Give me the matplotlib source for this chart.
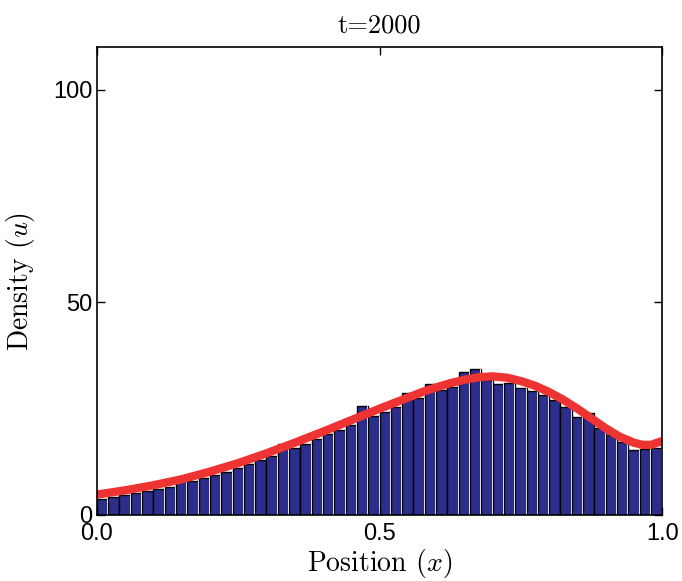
import numpy as np
import matplotlib.pyplot as plt

plt.rcParams['mathtext.fontset'] = 'cm'

# histogram of particle positions, 50 bins on [0, 1]
binLeft = np.arange(50) * 0.02
barHeight = [3.8, 4.3, 4.7, 5.2, 5.6, 6.2, 6.7, 8.6, 7.9, 8.6,
             9.4, 10.2, 11.0, 11.9, 12.9, 13.9, 16.8, 15.8, 16.8, 17.9,
             19.0, 20.0, 21.1, 25.6, 23.3, 24.3, 25.4, 28.8, 27.4, 30.8,
             29.3, 30.2, 33.6, 34.4, 31.8, 30.9, 31.1, 29.8, 29.2, 28.3,
             27.0, 25.4, 23.0, 24.0, 20.5, 18.8, 17.1, 15.3, 15.5, 15.8]

# continuum density solution
curveX = [0.0, 0.05, 0.10, 0.15, 0.20, 0.25, 0.30, 0.35, 0.40, 0.45, 0.50,
          0.55, 0.575, 0.60, 0.625, 0.65, 0.675, 0.70, 0.725, 0.75, 0.775,
          0.80, 0.825, 0.85, 0.875, 0.90, 0.925, 0.95, 0.965, 0.98, 1.0]
curveY = [4.8, 5.8, 7.0, 8.4, 10.2, 12.2, 14.5, 17.0, 19.6, 22.3, 25.0,
          27.6, 28.9, 30.0, 31.0, 31.8, 32.4, 32.6, 32.3, 31.5, 30.4,
          28.9, 27.1, 25.0, 22.7, 20.4, 18.4, 17.0, 16.5, 16.5, 17.4]

fig = plt.figure(figsize=(6.82, 5.81), dpi=100)
axes = fig.add_axes([0.142, 0.1136, 0.829, 0.805])

axes.bar(binLeft, barHeight, width=0.02, align='edge',
         facecolor='#2d2d8c', edgecolor='black', linewidth=1.0)
axes.bar(binLeft + 0.0185, barHeight, width=0.0015, align='edge',
         facecolor='#d8d8d8', edgecolor='none')
axes.plot(curveX, curveY, '-', color='#ee3333', linewidth=6,
          solid_capstyle='butt', solid_joinstyle='round')

axes.set_xlim(0, 1)
axes.set_ylim(0, 110)
axes.set_xticks([0, 0.5, 1.0])
axes.set_xticklabels(['0.0', '0.5', '1.0'])
axes.set_yticks([0, 50, 100])
axes.tick_params(direction='in', length=6, width=1, top=True, right=True,
                 labelsize=17, pad=3)
axes.tick_params(axis='x', pad=6)
for lab in axes.get_xticklabels() + axes.get_yticklabels():
    lab.set_family('Liberation Sans')
for spine in axes.spines.values():
    spine.set_linewidth(1.2)

axes.set_xlabel('Position ($x$)', fontfamily='cmr10', fontsize=20, labelpad=1)
axes.set_ylabel('Density ($u$)', fontfamily='cmr10', fontsize=20, labelpad=12)
axes.set_title('t=2000', fontfamily='cmr10', fontsize=19, pad=11)

fig.savefig('out.png')
